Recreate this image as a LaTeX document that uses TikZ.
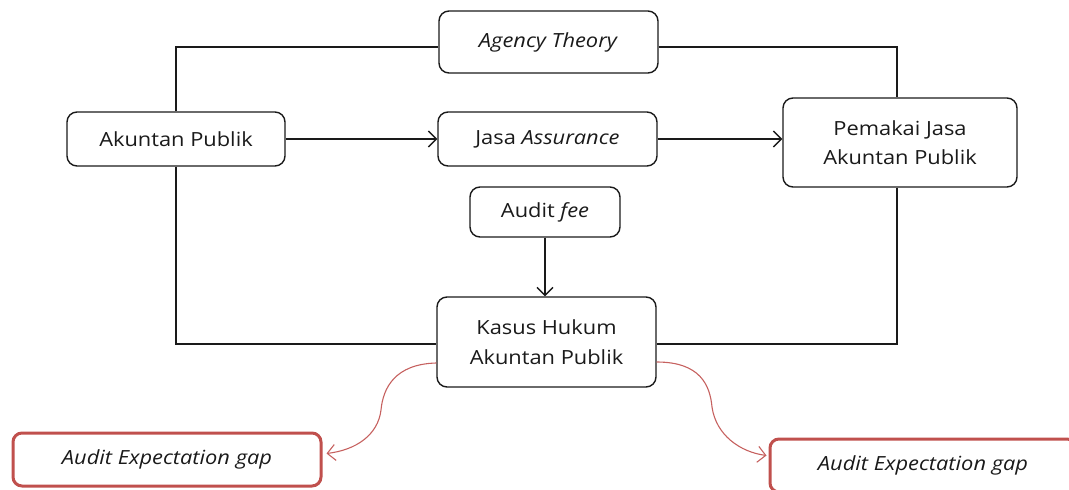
\documentclass[tikz,border=0pt]{standalone}
\usepackage{fontspec}
\setmainfont{Open Sans}[FakeStretch=1.12]
\usetikzlibrary{arrows.meta}
\definecolor{ink}{HTML}{1A1A1A}
\definecolor{gapred}{HTML}{C0504D}
\begin{document}
\begin{tikzpicture}[x=1pt,y=-1pt,
  every node/.style={font=\fontsize{19.5}{29.5}\selectfont, text=ink},
  box/.style={draw=ink, line width=1.4pt, rounded corners=10pt, inner sep=0pt, align=center},
  gapbox/.style={draw=gapred, line width=3pt, rounded corners=9pt, inner sep=0pt, align=center},
  link/.style={draw=ink, line width=1.3pt},
  flow/.style={link, -{Straight Barb[length=8pt,width=16pt,line width=1.3pt]}},
  redflow/.style={draw=gapred!90, line width=1.1pt, -{Straight Barb[length=8pt,width=16pt,line width=1.1pt]}}]
\useasboundingbox (0,0) rectangle (1069,490);
\begin{scope}
\clip (0,0) rectangle (1069,490);

% boxes
\node[box, minimum width=219pt, minimum height=62pt] (agency) at (548.5,42) {\textit{Agency Theory}};
\node[box, minimum width=218pt, minimum height=54pt] (ap) at (176,139) {Akuntan Publik};
\node[box, minimum width=219pt, minimum height=54pt] (jasa) at (547.5,139) {Jasa \textit{Assurance}};
\node[box, minimum width=234pt, minimum height=89pt] (pemakai) at (900,142.5) {Pemakai Jasa\\Akuntan Publik};
\node[box, minimum width=150pt, minimum height=50pt] (fee) at (545,212) {Audit \textit{fee}};
\node[box, minimum width=219pt, minimum height=90pt] (kasus) at (546.5,342) {Kasus Hukum\\Akuntan Publik};
\node[gapbox, minimum width=308pt, minimum height=53pt] (gapL) at (167,459.5) {\textit{Audit Expectation gap}};
\node[gapbox, minimum width=306pt, minimum height=53pt] (gapR) at (923,465.5) {\textit{Audit Expectation gap}};

% outer frame through Agency Theory
\draw[link] (ap.north) |- ([yshift=-5pt]agency.west);
\draw[link] ([yshift=-5pt]agency.east) -| ([xshift=-3pt]pemakai.north);
\draw[link] (ap.south) |- ([yshift=-2pt]kasus.west);
\draw[link] ([xshift=-3pt]pemakai.south) |- ([yshift=-2pt]kasus.east);

% main flow
\draw[flow] (ap.east) -- (jasa.west);
\draw[flow] (jasa.east) -- (jasa.east -| pemakai.west);
\draw[flow] (fee.south) -- (fee.south |- kasus.north);

% expectation gap branches
\coordinate (bendL) at (381,410);
\coordinate (bendR) at (712,407);
\draw[redflow] ([yshift=-21pt]kasus.west) .. controls (395,364) and (383,388) .. (bendL)
  .. controls (378,435) and (356,450) .. ([xshift=4pt,yshift=6pt]gapL.east);
\draw[redflow] ([yshift=-20pt]kasus.east) .. controls (700,362) and (710,385) .. (bendR)
  .. controls (716,435) and (740,452) .. ([xshift=-2pt,yshift=10pt]gapR.west);
\end{scope}
\end{tikzpicture}
\end{document}
